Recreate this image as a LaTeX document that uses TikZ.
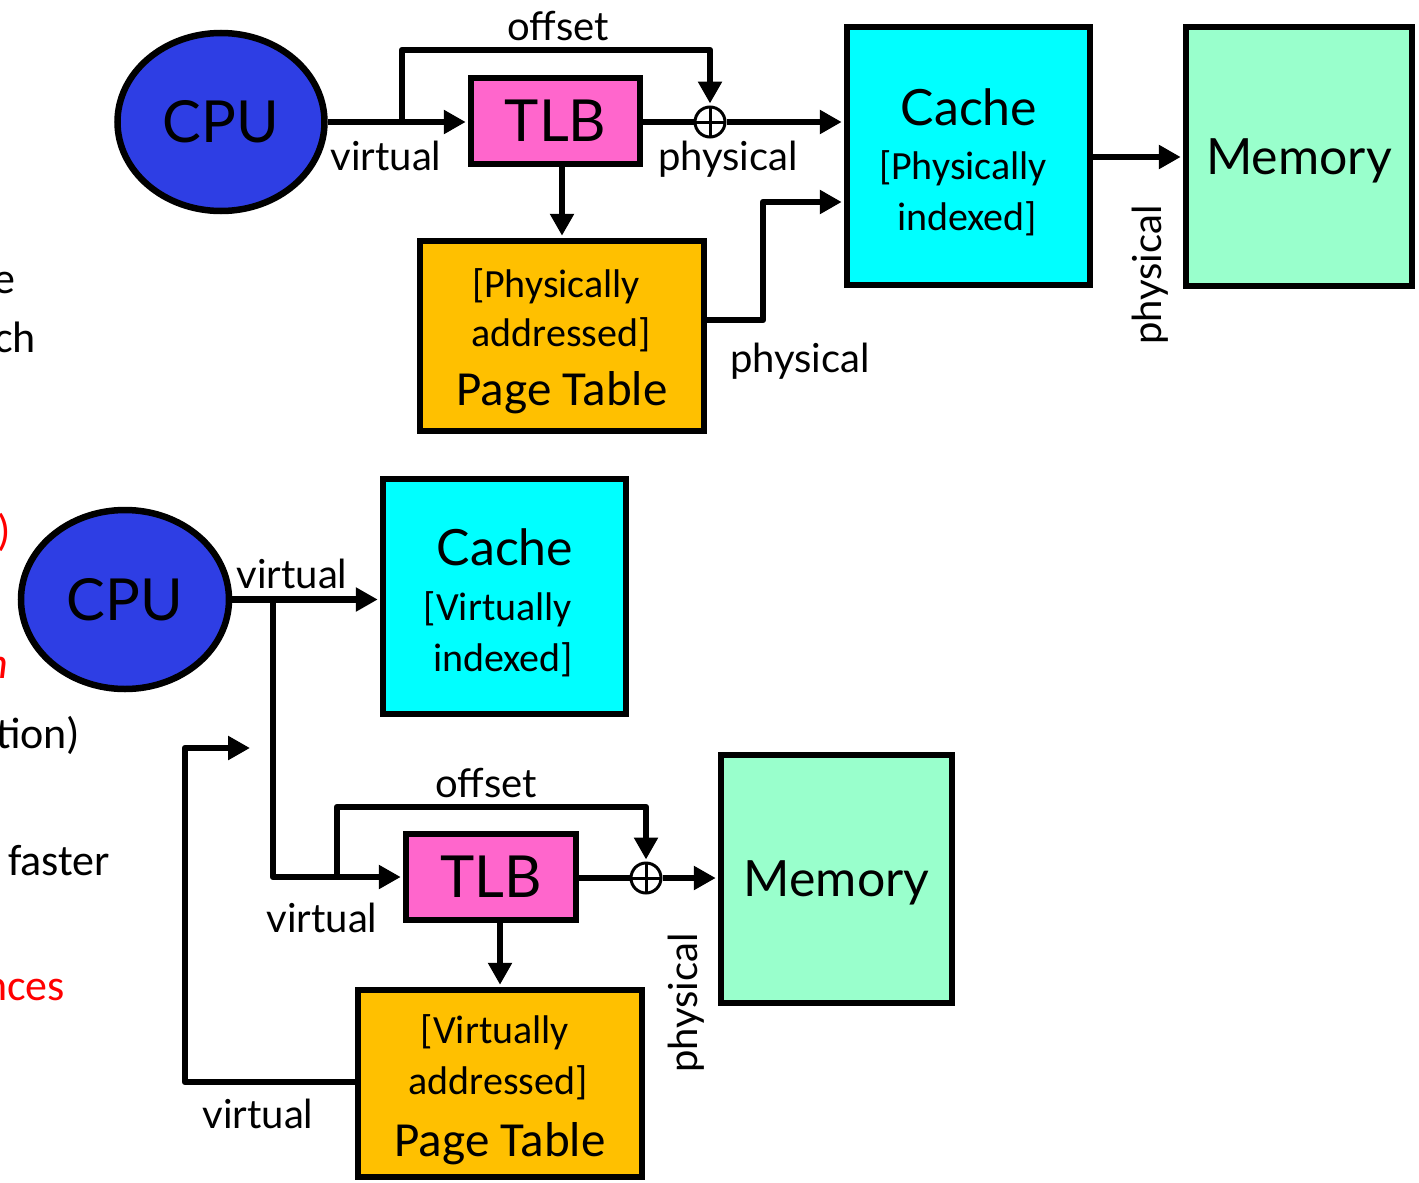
\documentclass[tikz,border=0pt]{standalone}
\usepackage{fontspec}
\setmainfont{Carlito}
\newfontfamily\lato{Lato}
\usetikzlibrary{arrows.meta,shapes.geometric}
\definecolor{cpublue}{RGB}{46,62,228}
\definecolor{tlbpink}{RGB}{255,102,204}
\definecolor{ptorange}{RGB}{255,192,0}
\definecolor{cachecyan}{RGB}{0,255,255}
\definecolor{memgreen}{RGB}{153,255,204}
\definecolor{txtred}{RGB}{255,0,0}
\begin{document}
\begin{tikzpicture}[x=1pt,y=-1pt,
 box/.style={draw=black,line width=6.5pt,inner sep=0pt},
 conn/.style={line width=6.5pt,line join=round},
 arr/.style={conn,-{Triangle[length=22pt,width=23pt]},shorten >=2pt},
 lbl/.style={font=\lato\fontsize{40}{40}\selectfont,anchor=base,inner sep=0pt},
 big/.style={font=\lato\fontsize{58}{58}\selectfont},
 head/.style={font=\lato\fontsize{50}{50}\selectfont,anchor=base,inner sep=0pt},
 sub/.style={font=\fontsize{40}{40}\selectfont,anchor=base,inner sep=0pt},
 ptxt/.style={font=\fontsize{49}{49}\selectfont,anchor=base,inner sep=0pt},
 oplus/.style={circle,draw,line width=3pt,fill=white,minimum size=30pt,inner sep=0pt,
   path picture={\draw[line width=3pt] (path picture bounding box.north) -- (path picture bounding box.south)
   (path picture bounding box.west) -- (path picture bounding box.east);}},
 side/.style={font=\fontsize{44}{44}\selectfont,anchor=base west,inner sep=0pt}]
\useasboundingbox (0,0) rectangle (1419,1183);
\clip (0,0) rectangle (1419,1183);

% cut-off slide text at the left
\node[side] (s1) at (-7,293) {e};
\node[side] (s2) at (-6,352) {ch};
\node[side,text=txtred] (s3) at (-3,545) {)};
\node[side,text=txtred,font=\itshape\fontsize{44}{44}\selectfont] (s4) at (-15,678) {n};
\node[side] (s5) at (-4,748) {tion)};
\node[side] (s6) at (8,875) {faster};
\node[side,text=txtred] (s7) at (-16,1000) {nces};

% ---------- top diagram ----------
\node[box,ellipse,fill=cpublue,minimum width=207,minimum height=178,big] (cpuT) at (221,122) {CPU};
\node[box,fill=tlbpink,minimum width=169,minimum height=86,big] (tlbT) at (555.5,121) {TLB};
\node[box,fill=ptorange,minimum width=284,minimum height=190] (ptT) at (562,336) {};
\node[box,fill=cachecyan,minimum width=243,minimum height=258] (cacheT) at (968.5,156) {};
\node[box,fill=memgreen,minimum width=226,minimum height=259,font=\lato\fontsize{50}{50}\selectfont,text depth=0pt] (memT) at (1299,156.5) {Memory};
\node[oplus] (plus1) at (710,122) {};

\node[head] (cT1) at (969,125) {Cache};
\node[sub] (cT2) at (963,179) {[Physically};
\node[sub] (cT3) at (967,230) {indexed]};
\node[sub] (pT1) at (556,297) {[Physically};
\node[sub] (pT2) at (561,346) {addressed]};
\node[ptxt] (pT3) at (562,405) {Page Table};

\node[lbl] (lT1) at (558,40) {offset};
\node[lbl] (lT2) at (386,170) {virtual};
\node[lbl] (lT3) at (728,170) {physical};
\node[lbl] (lT4) at (800,372) {physical};
\node[lbl,anchor=center,rotate=90] (lT5) at (1150,275) {physical};

\coordinate (bT) at (402,0 |- cpuT.east);
\draw[arr] (cpuT.east) -- (tlbT.west |- cpuT.east);
\draw[arr] (bT) |- (plus1.north |- 0,50) -- (plus1.north);
\draw[conn] (tlbT.east |- plus1) -- (plus1.west);
\draw[arr] (plus1.east) -- (cacheT.west |- plus1);
\draw[arr] (ptT.north |- tlbT.south) -- (ptT.north);
\draw[arr] (ptT.east |- 0,320) -| (763,202) -- (cacheT.west |- 0,202);
\draw[arr] (cacheT.east |- 0,157) -- (memT.west |- 0,157);

% ---------- bottom diagram ----------
\node[box,ellipse,fill=cpublue,minimum width=208,minimum height=179,big] (cpuB) at (125,599.5) {CPU};
\node[box,fill=cachecyan,minimum width=243,minimum height=235] (cacheB) at (504.5,596.5) {};
\node[box,fill=tlbpink,minimum width=170,minimum height=86,big] (tlbB) at (491,877) {TLB};
\node[box,fill=memgreen,minimum width=231,minimum height=248,font=\lato\fontsize{50}{50}\selectfont,text depth=0pt] (memB) at (836.5,879) {Memory};
\node[box,fill=ptorange,minimum width=284,minimum height=187] (ptB) at (500,1083.5) {};
\node[oplus] (plus2) at (646,878) {};

\node[head] (cB1) at (505,565) {Cache};
\node[sub] (cB2) at (498,620) {[Virtually};
\node[sub] (cB3) at (503,671) {indexed]};
\node[sub] (pB1) at (495,1043) {[Virtually};
\node[sub] (pB2) at (498,1094) {addressed]};
\node[ptxt] (pB3) at (500,1156) {Page Table};

\node[lbl] (lB1) at (292,588) {virtual};
\node[lbl] (lB2) at (322,932) {virtual};
\node[lbl] (lB3) at (486,797) {offset};
\node[lbl] (lB4) at (258,1128) {virtual};
\node[lbl,anchor=center,rotate=90] (lB5) at (686,1003) {physical};

\coordinate (bB) at (273,0 |- cpuB.east);
\coordinate (oB) at (337,0 |- tlbB.west);
\coordinate (vfree) at (252,748);
\draw[arr] (cpuB.east) -- (cacheB.west |- cpuB.east);
\draw[arr] (bB) |- (tlbB.west);
\draw[arr] (oB) |- (plus2.north |- 0,807) -- (plus2.north);
\draw[conn] (tlbB.east |- plus2) -- (plus2.west);
\draw[arr] (plus2.east) -- (memB.west |- plus2);
\draw[arr] (ptB.north |- tlbB.south) -- (ptB.north);
\draw[arr] (ptB.west |- 0,1082) -| (185,748) -- (vfree);
\end{tikzpicture}
\end{document}
